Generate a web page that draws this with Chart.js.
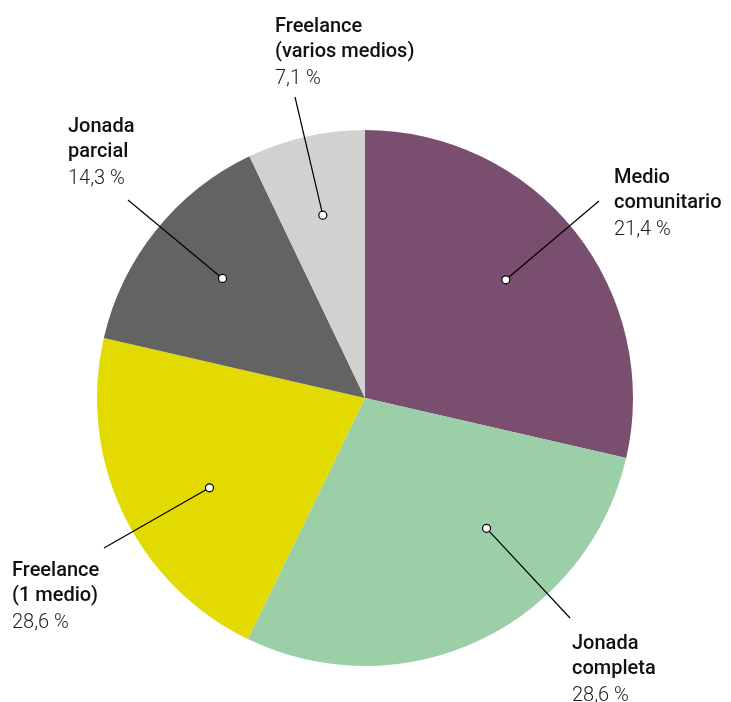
<!DOCTYPE html>
<html>
<head>
<meta charset="utf-8">
<script src="https://cdn.jsdelivr.net/npm/chart.js@4/dist/chart.umd.min.js"></script>
<style>
  html, body { margin: 0; padding: 0; background: #fff; }
  #wrap { width: 731px; height: 702px; position: relative; }
</style>
</head>
<body>
<div id="wrap"><canvas id="chart"></canvas></div>
<script>
// slice sizes as drawn (clockwise from 12 o'clock)
const sliceValues = [28.6, 28.6, 21.4, 14.3, 7.1];
// label text shown for each slice
const labelNames = [
  ["Medio", "comunitario"],
  ["Jonada", "completa"],
  ["Freelance", "(1 medio)"],
  ["Jonada", "parcial"],
  ["Freelance", "(varios medios)"]
];
const labelPercents = ["21,4 %", "28,6 %", "28,6 %", "14,3 %", "7,1 %"];
const sliceColors = ["#7a4e6e", "#9acfa8", "#e2da00", "#636363", "#d1d1d1"];

// leader layout: dot angle (deg from top), dot radius fraction, line end and text offset from centre
const leaders = [
  { ang: 50, rf: 0.686, end: [234, -197], text: [249, -215] },
  { ang: 137, rf: 0.665, end: [205, 220], text: [207, 251] },
  { ang: 240, rf: 0.67, end: [-261, 150], text: [-353, 178] },
  { ang: 310, rf: 0.694, end: [-237, -198], text: [-297, -266] },
  { ang: 347, rf: 0.70, end: [-70, -301], text: [-90, -366] }
];

const leaderPlugin = {
  id: "leaders",
  afterDatasetsDraw(chart) {
    const ctx = chart.ctx;
    const arc = chart.getDatasetMeta(0).data[0];
    const { x: cx, y: cy, outerRadius: R } = arc.getProps(["x", "y", "outerRadius"], true);
    ctx.save();
    leaders.forEach((l, i) => {
      const a = (l.ang - 90) * Math.PI / 180;
      const dx = cx + Math.cos(a) * R * l.rf;
      const dy = cy + Math.sin(a) * R * l.rf;
      ctx.strokeStyle = "#000";
      ctx.lineWidth = 1.2;
      ctx.beginPath();
      ctx.moveTo(cx + l.end[0], cy + l.end[1]);
      ctx.lineTo(dx, dy);
      ctx.stroke();
      ctx.beginPath();
      ctx.arc(dx, dy, 4, 0, Math.PI * 2);
      ctx.fillStyle = "#fff";
      ctx.fill();
      ctx.lineWidth = 1.2;
      ctx.stroke();

      const tx = cx + l.text[0];
      let ty = cy + l.text[1];
      ctx.textAlign = "left";
      ctx.textBaseline = "alphabetic";
      ctx.fillStyle = "#111";
      ctx.font = "500 20px Roboto, 'Noto Sans', sans-serif";
      labelNames[i].forEach((line) => {
        ctx.fillText(line, tx, ty);
        ty += 25;
      });
      ctx.fillStyle = "#222";
      ctx.font = "300 20px Roboto, 'Noto Sans', sans-serif";
      ctx.fillText(labelPercents[i], tx, ty + 2);
    });
    ctx.restore();
  }
};

new Chart(document.getElementById("chart"), {
  type: "pie",
  data: {
    labels: labelNames.map((n) => n.join(" ")),
    datasets: [{
      data: sliceValues,
      backgroundColor: sliceColors,
      borderWidth: 0
    }]
  },
  options: {
    responsive: true,
    maintainAspectRatio: false,
    animation: false,
    layout: { padding: { left: 97, right: 98, top: 130, bottom: 36 } },
    plugins: {
      legend: { display: false },
      tooltip: { enabled: false }
    }
  },
  plugins: [leaderPlugin]
});
</script>
</body>
</html>
